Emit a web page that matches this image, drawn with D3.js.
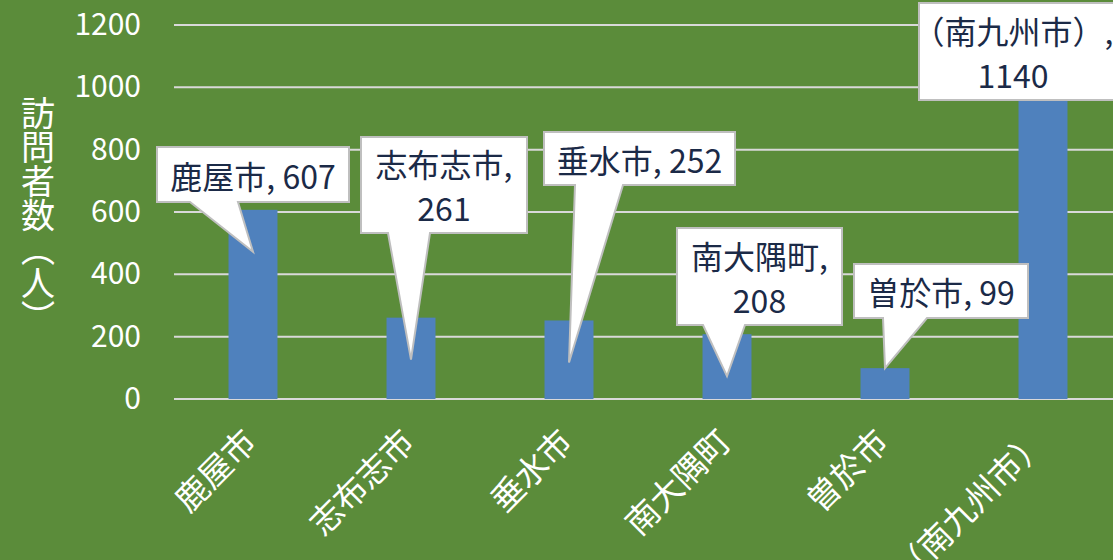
<!DOCTYPE html>
<html>
<head>
<meta charset="utf-8">
<script src="https://cdn.jsdelivr.net/npm/d3@7"></script>
<style>
  html, body { margin: 0; padding: 0; background: #5B8C3A; }
  svg { display: block; }
  text { font-family: "Noto Sans CJK JP", "Noto Sans", sans-serif; }
</style>
</head>
<body>
<svg id="chart" width="1113" height="560"></svg>
<script>
// 市町村別の訪問者数
const categories = ["鹿屋市", "志布志市", "垂水市", "南大隅町", "曽於市", "（南九州市）"];
const visitors = [607, 261, 252, 208, 99, 1140];
const yTicks = [0, 200, 400, 600, 800, 1000, 1200];
const yTitle = "訪問者数（人）";

// Callout boxes: [left, top, right, bottom, pointer base left, pointer base right, tip depth into bar, wrap]
const callouts = [
  [157, 147, 349, 202, 190, 238, 42, false],
  [361, 137, 527, 233, 388, 430, 42, true],
  [544, 132, 735, 185, 575, 623, 42, false],
  [677, 228, 842, 325, 703, 745, 42, true],
  [854, 264, 1028, 318, 883, 927, 0, false],
  [919, 3, 1121, 100, 1000, 1040, 42, true]
];

const W = 1113, H = 560;
const svg = d3.select("#chart");

svg.append("rect").attr("width", W).attr("height", H).attr("fill", "#5B8C3A");

const x = d3.scaleBand()
  .domain(categories)
  .range([174, 1122])
  .paddingInner(0.69)
  .paddingOuter(0.345);

const y = d3.scaleLinear().domain([0, 1200]).range([399, 25]);

// horizontal gridlines
svg.append("g").selectAll("line").data(yTicks).join("line")
  .attr("x1", 174).attr("x2", 1122)
  .attr("y1", d => y(d)).attr("y2", d => y(d))
  .attr("stroke", "#D9D9D9").attr("stroke-width", 2);

// y tick labels
const yAxis = d3.axisLeft(y).tickValues(yTicks).tickSize(0).tickPadding(0).tickFormat(d3.format("d"));
const yg = svg.append("g").attr("transform", "translate(141,0)").call(yAxis);
yg.select(".domain").remove();
yg.selectAll("text")
  .attr("fill", "#FFFFFF")
  .style("font-size", "30px")
  .style("font-family", "'Noto Sans CJK JP', sans-serif");

// y axis title, vertical
svg.append("text")
  .attr("x", 38).attr("y", 215)
  .attr("text-anchor", "middle")
  .style("writing-mode", "vertical-rl")
  .style("font-size", "34px")
  .attr("fill", "#FFFFFF")
  .text(yTitle);

// bars
const data = categories.map((c, i) => ({ name: c, value: visitors[i] }));
svg.append("g").selectAll("rect").data(data).join("rect")
  .attr("x", d => x(d.name))
  .attr("width", x.bandwidth())
  .attr("y", d => y(d.value))
  .attr("height", d => y(0) - y(d.value))
  .attr("fill", "#4F81BD");

// x category labels, rotated
svg.append("g").selectAll("text").data(data).join("text")
  .attr("transform", d => `translate(${x(d.name) + x.bandwidth() / 2 - 4},434) rotate(-45)`)
  .attr("text-anchor", "end")
  .attr("dominant-baseline", "central")
  .style("font-size", "33px")
  .attr("fill", "#FFFFFF")
  .text(d => d.name);

// data callouts
const cg = svg.append("g");
data.forEach((d, i) => {
  const [l, t, r, b, bl, br, depth, wrap] = callouts[i];
  const tipX = x(d.name) + x.bandwidth() / 2;
  const tipY = y(d.value) + depth;
  const path = d3.path();
  path.moveTo(l, t);
  path.lineTo(r, t);
  path.lineTo(r, b);
  if (tipY > b) {
    path.lineTo(br, b);
    path.lineTo(tipX, tipY);
    path.lineTo(bl, b);
  }
  path.lineTo(l, b);
  path.closePath();
  cg.append("path")
    .attr("d", path.toString())
    .attr("fill", "#FFFFFF")
    .attr("stroke", "#BFBFBF")
    .attr("stroke-width", 2)
    .attr("stroke-linejoin", "miter");

  // keep the text inside the drawing when a box runs past the right edge
  const cx = Math.min((l + r) / 2, W - 100), cy = (t + b) / 2;
  const lines = wrap ? [d.name + ",", String(d.value)] : [d.name + ", " + d.value];
  const gap = 44;
  lines.forEach((ln, k) => {
    cg.append("text")
      .attr("x", cx)
      .attr("y", cy + (k - (lines.length - 1) / 2) * gap)
      .attr("text-anchor", "middle")
      .attr("dominant-baseline", "central")
      .style("font-size", "32px")
      .attr("fill", "#1B2A47")
      .text(ln);
  });
});
</script>
</body>
</html>
